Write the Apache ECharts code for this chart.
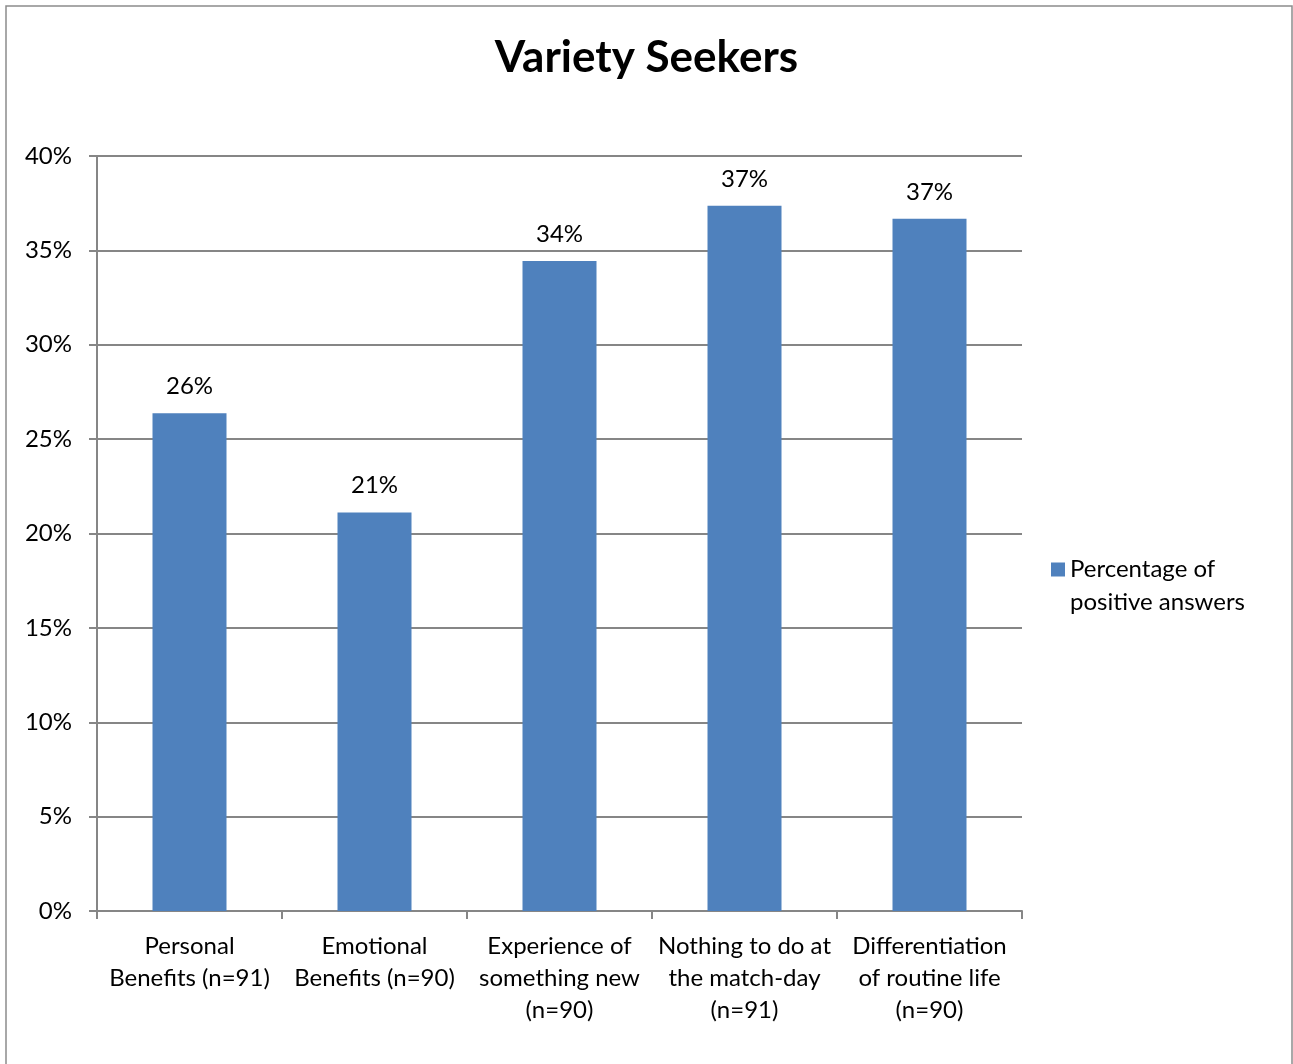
<!DOCTYPE html>
<html>
<head>
<meta charset="utf-8">
<title>Variety Seekers</title>
<script src="https://cdn.jsdelivr.net/npm/echarts@6/dist/echarts.min.js"></script>
<style>
  html, body { margin: 0; padding: 0; background: #ffffff; }
  #chart { width: 1293px; height: 1064px; }
</style>
</head>
<body>
<div id="chart"></div>
<script>
// Survey results: share of positive answers per motive
const chartTitle = 'Variety Seekers';
const seriesName = 'Percentage of positive answers';
const legendLines = ['Percentage of', 'positive answers'];
const categories = [
  'Personal\nBenefits (n=91)',
  'Emotional\nBenefits (n=90)',
  'Experience of\nsomething new\n(n=90)',
  'Nothing to do at\nthe match-day\n(n=91)',
  'Differentiation\nof routine life\n(n=90)'
];
const positiveShare = [0.2637, 0.2111, 0.3444, 0.3736, 0.3667];
const yTicks = { min: 0, max: 0.4, interval: 0.05 };

const FONT = 'Lato';
const GRID_GRAY = '#868686';
const BAR_BLUE = '#4F81BD';

const chart = echarts.init(document.getElementById('chart'), null, { renderer: 'canvas' });

chart.setOption({
  backgroundColor: '#ffffff',
  animation: false,
  textStyle: { fontFamily: FONT, color: '#000000' },
  graphic: [{
    type: 'rect',
    shape: { x: 6, y: 6, width: 1286, height: 1100 },
    style: { fill: 'none', stroke: '#8c8c8c', lineWidth: 1.5 },
    silent: true
  }],
  title: {
    text: chartTitle,
    left: 'center',
    top: 31,
    textStyle: { fontFamily: FONT, fontSize: 44, fontWeight: 'bold', color: '#000000' }
  },
  legend: {
    data: [seriesName],
    left: 1051,
    top: 520,
    padding: 0,
    icon: 'rect',
    itemWidth: 14,
    itemHeight: 14,
    itemGap: 0,
    // a blank first line keeps the swatch level with the first line of text
    formatter: () => '\n' + legendLines.join('\n'),
    textStyle: {
      fontFamily: FONT,
      fontSize: 24,
      lineHeight: 33,
      color: '#000000'
    }
  },
  grid: { left: 97, right: 271, top: 156, bottom: 153, containLabel: false },
  xAxis: {
    type: 'category',
    data: categories,
    axisLine: { show: true, lineStyle: { color: GRID_GRAY, width: 2 } },
    axisTick: { show: true, length: 8, alignWithLabel: false, lineStyle: { color: GRID_GRAY, width: 2 } },
    axisLabel: {
      interval: 0,
      margin: 19,
      fontFamily: FONT,
      fontSize: 24,
      lineHeight: 32,
      color: '#000000',
      align: 'center'
    }
  },
  yAxis: {
    type: 'value',
    min: yTicks.min,
    max: yTicks.max,
    interval: yTicks.interval,
    axisLine: { show: true, lineStyle: { color: GRID_GRAY, width: 2 } },
    axisTick: { show: true, length: 8, lineStyle: { color: GRID_GRAY, width: 2 } },
    splitLine: { show: true, lineStyle: { color: GRID_GRAY, width: 2 } },
    axisLabel: {
      margin: 25,
      fontFamily: FONT,
      fontSize: 24,
      color: '#000000',
      formatter: v => Math.round(v * 100) + '%'
    }
  },
  series: [{
    name: seriesName,
    type: 'bar',
    data: positiveShare,
    barCategoryGap: '60%',
    itemStyle: { color: BAR_BLUE },
    label: {
      show: true,
      position: 'top',
      distance: 15,
      fontFamily: FONT,
      fontSize: 24,
      color: '#000000',
      formatter: p => Math.round(p.value * 100) + '%'
    }
  }]
});
</script>
</body>
</html>
